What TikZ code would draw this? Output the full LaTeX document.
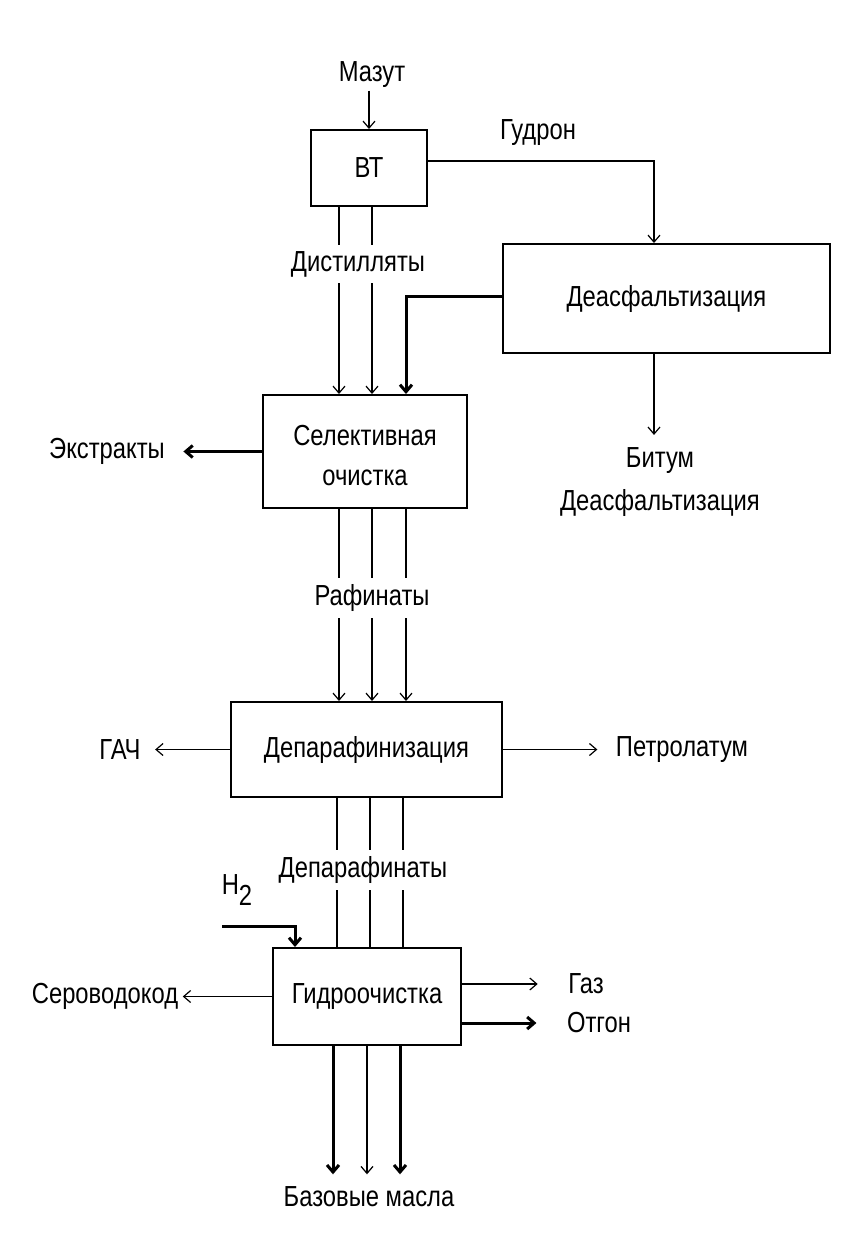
\documentclass[tikz,border=0pt]{standalone}
\usepackage{fontspec}
\setmainfont{Liberation Sans}[FakeStretch=0.82]
\usetikzlibrary{%
  positioning
 ,arrows.meta
 ,calc
}
\tikzstyle{flow}=[x=0.5pt,y=-0.5pt,font=\fontsize{14.5}{16}\selectfont,>={Straight Barb[length=3.5pt,width=6pt]},line width=0.6pt]
\tikzstyle{unit}=[draw=black,line width=1pt,inner sep=2pt,align=center]
\tikzstyle{lbl}=[inner sep=1pt,align=center]
\tikzstyle{onflow}=[lbl,fill=white,inner ysep=3pt]
\tikzstyle{heavy}=[line width=1.5pt]

\begin{document}
\begin{tikzpicture}[flow]
  \useasboundingbox (0,0) rectangle (852,1260);
% units
  \node[unit,minimum width=58pt,minimum height=38pt]      (vt)    at (369,168)     {ВТ};
  \node[unit,minimum width=163.5pt,minimum height=54.5pt] (deas)  at (666.5,298.5) {Деасфальтизация};
  \node[unit,minimum width=102pt,minimum height=56.5pt,font=\fontsize{14.5}{20}\selectfont]
                                                          (sel)   at (365,451.5)   {\rule{0pt}{14pt}Селективная\\очистка};
  \node[unit,minimum width=135.5pt,minimum height=47.5pt] (depar) at (366.5,749.5) {Депарафинизация};
  \node[unit,minimum width=94pt,minimum height=48.5pt]    (hydro) at (367,996.5)   {Гидроочистка};
% streams
  \node[lbl] (mazut) at (372,75)   {Мазут};
  \node[lbl] (gudron) at (538,133) {Гудрон};
  \node[lbl,font=\fontsize{14.5}{21.5}\selectfont] (bitum) at (660,482) {Битум\\Деасфальтизация};
  \node[lbl] (extr) at (107,451.5) {Экстракты};
  \node[lbl] (gach) at (120,749.5) {ГАЧ};
  \node[lbl] (petr) at (682,749.5) {Петролатум};
  \node[lbl] (htwo) at (237,890)   {H\raisebox{-.7ex}{2}};
  \node[lbl] (sero) at (105,996.5) {Сероводокод};
  \node[lbl] (gaz) at (586,984)    {Газ};
  \node[lbl] (otgon) at (599,1023) {Отгон};
  \node[lbl] (oils) at (369,1197)  {Базовые масла};
% columns
  \coordinate (g) at (654,0);
  \coordinate (ka) at (339,0);  \coordinate (kb) at (372,0);  \coordinate (kc) at (406,0);
  \coordinate (la) at (337,0);  \coordinate (lb) at (370,0);  \coordinate (lc) at (403,0);
  \coordinate (ma) at (333,0);  \coordinate (mb) at (367,0);  \coordinate (mc) at (400,0);
  \coordinate (hcol) at (295,0);
  \coordinate (hstart) at (222,926);
%
  \draw[->] (mazut.south -| vt) -- (vt.north);
  \draw[->] ([yshift=3.5pt]vt.east) -| (deas.north -| g);
  \draw[->] (vt.south -| ka) -- (sel.north -| ka);
  \draw[->] (vt.south -| kb) -- (sel.north -| kb);
  \draw[->,heavy] ([yshift=1pt]deas.west) -| (sel.north -| kc);
  \draw[->] (deas.south -| g) -- ([yshift=5pt]bitum.north -| g);
  \draw[->,heavy] (sel.west) -- ([xshift=8pt]extr.east);
%
  \draw[->] (sel.south -| ka) -- (depar.north -| ka);
  \draw[->] (sel.south -| kb) -- (depar.north -| kb);
  \draw[->] (sel.south -| kc) -- (depar.north -| kc);
  \draw[->] (depar.west) -- ([xshift=6pt]gach.east);
  \draw[->] (depar.east) -- ([xshift=-8pt]petr.west);
%
  \draw (depar.south -| la) -- (hydro.north -| la);
  \draw (depar.south -| lb) -- (hydro.north -| lb);
  \draw (depar.south -| lc) -- (hydro.north -| lc);
  \draw[->,heavy] (hstart) -| (hydro.north -| hcol);
  \draw[->] (hydro.west) -- ([xshift=1pt]sero.east);
  \draw[->] (hydro.east |- gaz) -- ([xshift=-14pt]gaz.west);
  \draw[->,heavy] (hydro.east |- otgon) -- ([xshift=-14pt]otgon.west);
%
  \draw[->,heavy] (hydro.south -| ma) -- ([yshift=5pt]oils.north -| ma);
  \draw[->] (hydro.south -| mb) -- ([yshift=5pt]oils.north -| mb);
  \draw[->,heavy] (hydro.south -| mc) -- ([yshift=5pt]oils.north -| mc);
% labels lying over the streams
  \node[onflow] (dist) at (358,264) {Дистилляты};
  \node[onflow] (raf) at (372,598)  {Рафинаты};
  \node[onflow] (depf) at (363,870) {Депарафинаты};
\end{tikzpicture}
\end{document}
